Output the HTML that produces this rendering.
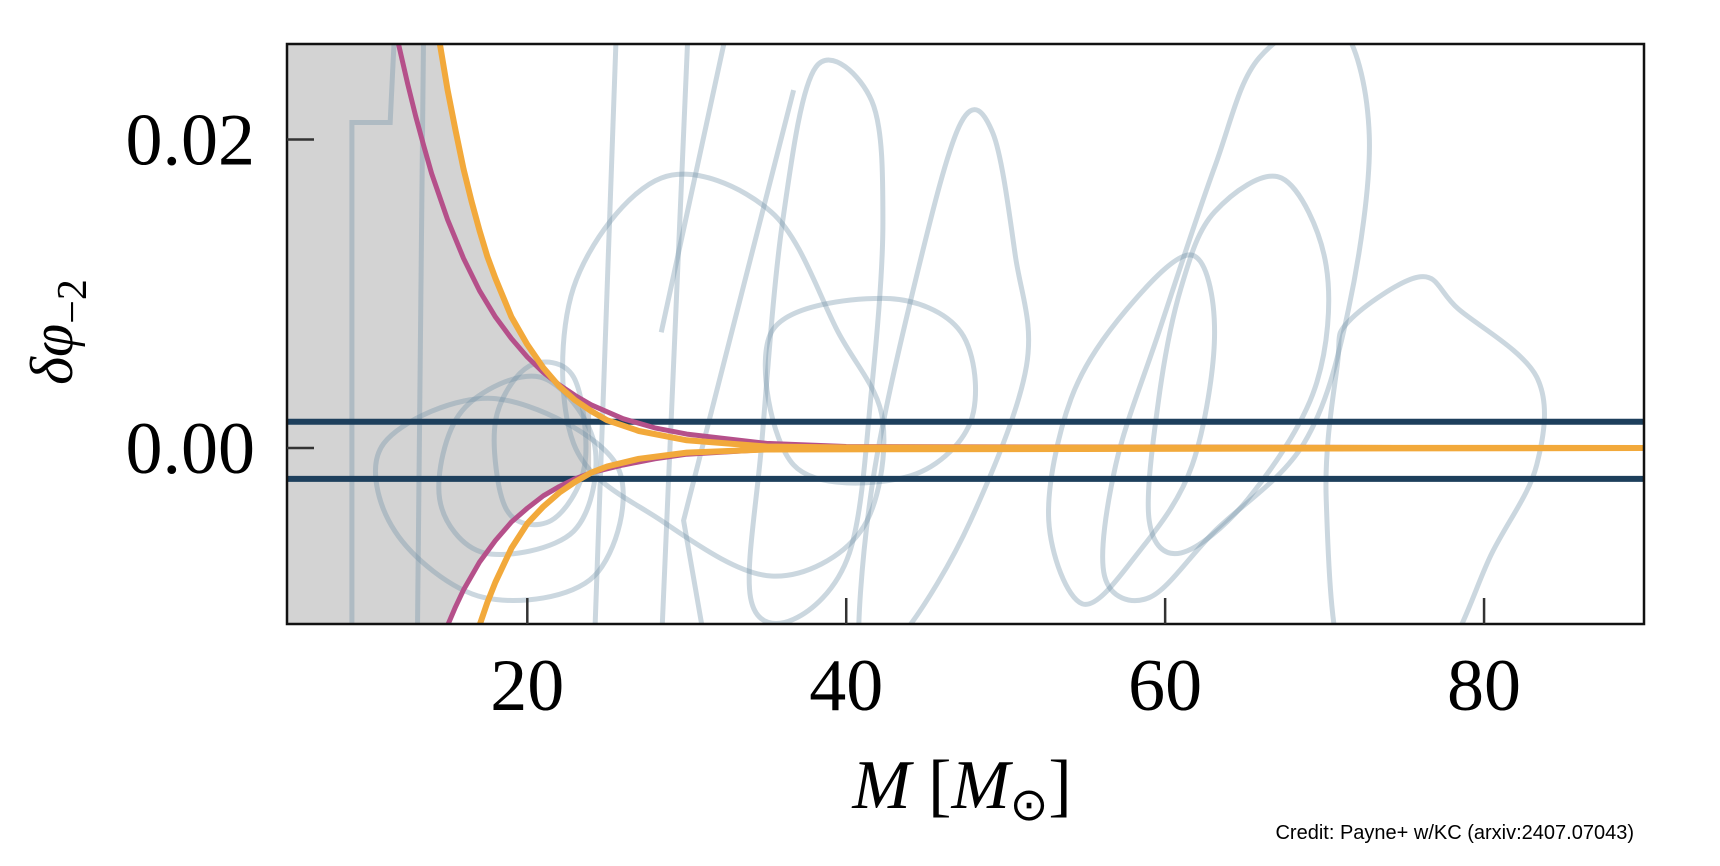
<!DOCTYPE html>
<html><head><meta charset="utf-8">
<style>
html,body{margin:0;padding:0;background:#fff;}
svg{display:block;}
</style></head>
<body>
<svg id="chart" width="1720" height="866" xmlns="http://www.w3.org/2000/svg">
<defs><clipPath id="plotclip"><rect x="287" y="44" width="1357" height="580"/></clipPath></defs>
<g id="plot" clip-path="url(#plotclip)"></g>
<rect x="287" y="44" width="1357" height="580" fill="none" stroke="#111" stroke-width="2.5"/>
<g id="axes"></g>
<text x="72" y="332" transform="rotate(-90 72 332)" text-anchor="middle" font-family="Liberation Serif, serif" font-style="italic" font-size="60">δφ<tspan font-size="42" dy="14" font-style="normal">−2</tspan></text>
<text x="962" y="808" text-anchor="middle" font-family="Liberation Serif, serif" font-size="70"><tspan font-style="italic">M</tspan>  [<tspan font-style="italic">M</tspan><tspan font-size="46" dy="12">⊙</tspan><tspan dy="-12">]</tspan></text>
<text x="1634" y="839" text-anchor="end" font-family="Liberation Sans, sans-serif" font-size="20">Credit: Payne+ w/KC (arxiv:2407.07043)</text>
</svg>
<script>
const xTicks=[20,40,60,80];
const yTicks=[0.00,0.02];
const yTickLabels=["0.00","0.02"];
const yellowUpM=[14.5,15,15.5,16,16.5,17,17.5,18,19,20,21,22,23,24,25,27,30,35,40,90];
const yellowUpY=[0.0263,0.0232,0.0206,0.0181,0.0160,0.0141,0.0124,0.0110,0.0085,0.0067,0.0052,0.0040,0.0031,0.0024,0.0018,0.0011,0.0005,0.0001,0.00003,0];
const yellowLoM=[17,17.5,18,18.5,19,20,21,22,23,24,25,27,30,35,90];
const yellowLoY=[-0.0115,-0.0100,-0.0087,-0.0076,-0.0065,-0.0049,-0.0038,-0.0029,-0.0022,-0.0016,-0.0012,-0.0007,-0.0003,-0.0001,0];
const pinkUpM=[11.9,12.5,13,13.5,14,15,16,17,18,19,20,21,22,23,24,26,28,30,35,40,90];
const pinkUpY=[0.0263,0.0236,0.0215,0.0196,0.0178,0.0148,0.0123,0.0102,0.0085,0.0071,0.0059,0.0049,0.0041,0.0034,0.0028,0.0019,0.0013,0.0009,0.0003,0.0001,0];
const pinkLoM=[15,15.5,16,16.5,17,18,19,20,21,22,23,24,26,28,30,35,90];
const pinkLoY=[-0.0115,-0.0103,-0.0092,-0.0083,-0.0074,-0.0060,-0.0048,-0.0039,-0.0031,-0.0025,-0.0020,-0.0016,-0.0011,-0.0007,-0.0004,-0.0001,0];
const bandUpper=0.0017;
const bandLower=-0.0020;
const contours=[
[[71.5,.0082],[76,.0111],[78.4,.0090],[83.3,.0046],[83.3,-.0011],[80.5,-.0068],[77,-.014],[71.5,-.015],[70.1,-.0033],[70.8,.0054]],
[[65.9,.0253],[70.8,.0275],[72.8,.0203],[71.5,.009],[68.7,.0003],[63.1,-.0054],[59,-.0097],[56.2,-.0083],[56.9,-.0011],[59.6,.0075],[63.1,.0182]],
[[63.1,.0153],[67.3,.0175],[70.1,.0118],[69.4,.0039],[65.2,-.0033],[61,-.0068],[59,-.0047],[59.6,.0032],[61,.0104]],
[[57.6,.009],[61.7,.0125],[63.1,.0075],[61.7,-.0011],[58.3,-.0068],[54.8,-.0101],[52.7,-.0047],[54.1,.0032]],
[[47.2,.0211],[49.2,.0204],[50.6,.0125],[51.3,.0053],[47.8,-.0047],[43.7,-.0119],[40.9,-.014],[41.6,-.0026],[44.4,.0111]],
[[38.1,.0247],[41.6,.0225],[42.3,.0146],[41.6,.0039],[40.2,-.0068],[36.7,-.0111],[34,-.0097],[34.7,.0003],[36,.0146]],
[[28.4,.0175],[35.3,.0153],[39.5,.0075],[42.3,.0017],[40.9,-.0054],[35.3,-.0083],[28.4,-.0047],[22.9,.0003],[22.9,.0104]],
[[35.3,.0075],[42.3,.0097],[47.2,.0075],[47.8,.0017],[43.7,-.0019],[36.7,-.0011]],
[[20.1,.0053],[22.9,.0046],[23.6,-.0011],[21.5,-.0047],[18.7,-.004],[18,.0017]],
[[15.9,.0024],[20.8,.0046],[24.2,.0003],[22.9,-.0054],[17.3,-.0068],[14.5,-.0033]],
[[11,.0003],[18,.0032],[25.6,-.0011],[24.2,-.0083],[17.3,-.0097],[11.7,-.0054]]
];
const polylines=[
[[25.6,.0275],[24.2,-.013]],
[[30.1,.0275],[28.4,-.013]],
[[36.7,.0232],[29.8,-.0047],[31.2,-.013]],
[[32.6,.0275],[28.4,.0075]],
[[9,-.013],[9,.0211],[11.4,.0211],[11.7,.0275]],
[[13.5,.0275],[13.1,-.013]]
];
const X0=4.93,X1=90.03,Y0=-0.01141,Y1=0.02619;
const PL=287,PR=1644,PT=44,PB=624;
function sx(m){return PL+(m-X0)/(X1-X0)*(PR-PL);}
function sy(v){return PB-(v-Y0)/(Y1-Y0)*(PB-PT);}
const NS="http://www.w3.org/2000/svg";
const plot=document.getElementById('plot');
const axes=document.getElementById('axes');
function mk(tag,attrs,parent){const e=document.createElementNS(NS,tag);for(const k in attrs)e.setAttribute(k,attrs[k]);parent.appendChild(e);return e;}
function pts(M,Y){return M.map((m,i)=>sx(m).toFixed(1)+','+sy(Y[i]).toFixed(1));}
function smoothClosed(p){
  const P=p.map(q=>[sx(q[0]),sy(q[1])]);const n=P.length;let d='M'+P[0][0]+','+P[0][1];
  for(let i=0;i<n;i++){const p0=P[(i-1+n)%n],p1=P[i],p2=P[(i+1)%n],p3=P[(i+2)%n];
    d+=' C'+(p1[0]+(p2[0]-p0[0])/6)+','+(p1[1]+(p2[1]-p0[1])/6)+' '+(p2[0]-(p3[0]-p1[0])/6)+','+(p2[1]-(p3[1]-p1[1])/6)+' '+p2[0]+','+p2[1];}
  return d+'Z';}
const yu=yellowUpM.filter(m=>m<=24);
let g=[sx(X0)+','+sy(0.03)].concat(pts(yu,yellowUpY.slice(0,yu.length)));
g.push(sx(24)+','+sy(0));
const pl=pinkLoM.filter(m=>m<=24);const plY=pinkLoY.slice(0,pl.length);
g=g.concat(pts(pl.slice().reverse(),plY.slice().reverse()));
g.push(sx(14)+','+sy(-0.02));g.push(sx(X0)+','+sy(-0.02));
const gray=mk('polygon',{points:g.join(' '),fill:'#d3d3d3'},plot);


contours.forEach(c=>{const e=mk('path',{d:smoothClosed(c),fill:'none',stroke:'rgba(110,145,165,0.36)','stroke-width':5},plot);

});
polylines.forEach(c=>{const e=mk('polyline',{points:c.map(q=>sx(q[0])+','+sy(q[1])).join(' '),fill:'none',stroke:'rgba(110,145,165,0.36)','stroke-width':5},plot);

});
[bandUpper,bandLower].forEach(v=>{const e=mk('line',{x1:PL,x2:PR,y1:sy(v),y2:sy(v),stroke:'#1d3f5c','stroke-width':6},plot);

});
[[pinkUpM,pinkUpY],[pinkLoM,pinkLoY]].forEach(s=>{const e=mk('polyline',{points:pts(s[0],s[1]).join(' '),fill:'none',stroke:'#b5508a','stroke-width':5,'stroke-linejoin':'round'},plot);

});
[[yellowUpM,yellowUpY],[yellowLoM,yellowLoY]].forEach(s=>{const e=mk('polyline',{points:pts(s[0],s[1]).join(' '),fill:'none',stroke:'#f2a93b','stroke-width':6,'stroke-linejoin':'round'},plot);

});
xTicks.forEach(t=>{const l=mk('line',{x1:sx(t),x2:sx(t),y1:PB,y2:PB-26,stroke:'#333','stroke-width':2.5},axes);


const tx=mk('text',{x:sx(t),y:710,'text-anchor':'middle','font-family':'Liberation Serif, serif','font-size':74},axes);tx.textContent=t;

});
yTicks.forEach((t,i)=>{const l=mk('line',{x1:PL,x2:PL+27,y1:sy(t),y2:sy(t),stroke:'#333','stroke-width':2.5},axes);


const tx=mk('text',{x:255,y:sy(t)+25,'text-anchor':'end','font-family':'Liberation Serif, serif','font-size':74},axes);tx.textContent=yTickLabels[i];

});
</script>
</body></html>
